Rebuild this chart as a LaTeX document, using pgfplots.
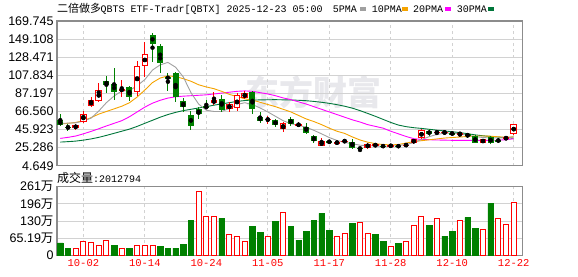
\documentclass[border=0pt]{standalone}
\usepackage{pgfplots}
\pgfplotsset{compat=1.18}
\usepackage{pgfplotstable}
\usepackage{fontspec}
\setmainfont{Liberation Sans}
\newfontfamily\cjk{Noto Sans CJK SC}
\newfontfamily\mono{Liberation Mono}
\definecolor{cred}{HTML}{FF0000}
\definecolor{cgreen}{HTML}{008000}
\definecolor{ma5}{HTML}{A0A0A0}
\definecolor{ma10}{HTML}{F5A300}
\definecolor{ma20}{HTML}{FF00FF}
\definecolor{ma30}{HTML}{00763A}
\definecolor{gridc}{HTML}{D2D2D2}
\definecolor{framec}{HTML}{8C8C8C}
\definecolor{wm}{HTML}{E8E8EC}

\pgfplotstableread{
i o c h l
2 47.2 51.0 52.5 45.3
3 54.1 64.0 66.6 53.7
4 72.3 80.0 83.0 71.6
5 78.4 91.4 98.6 77.7
8 90.2 92.1 102.8 83.0
10 88.3 118.8 124.5 84.1
11 118.8 131.7 145.4 105.4
20 76.5 79.2 88.3 73.9
22 69.3 74.8 76.9 66.3
23 70.0 85.0 87.2 67.0
24 82.0 87.4 89.8 80.7
27 57.0 57.8 61.7 52.5
29 46.0 52.9 54.1 43.4
31 51.0 51.5 54.5 48.4
34 27.2 32.5 36.5 27.0
36 30.7 31.1 33.0 29.0
37 32.5 33.1 34.7 30.1
40 24.4 29.9 30.9 24.2
41 28.2 28.4 29.3 26.3
43 27.2 27.5 28.0 26.8
45 28.0 28.4 30.1 26.3
46 30.1 35.1 35.5 29.6
47 36.0 45.1 46.1 34.7
49 42.6 43.0 44.8 39.2
50 42.5 42.8 43.6 41.0
52 40.9 41.2 42.7 37.7
55 30.9 34.7 35.2 30.5
58 35.0 37.3 37.8 33.9
59 40.8 52.2 52.5 40.0
}\upc

\pgfplotstableread{
i o c h l
0 56.4 51.0 63.6 49.5
1 49.0 48.5 51.8 44.2
6 101.3 96.7 107.0 87.2
7 97.5 89.1 115.7 79.2
9 94.8 82.6 95.5 78.8
12 153.8 143.9 156.1 122.5
13 141.2 121.4 143.5 110.8
14 106.2 103.9 110.8 90.2
15 110.0 83.4 111.1 77.6
16 78.4 71.6 81.5 66.3
17 62.4 50.3 67.0 45.7
18 68.9 63.6 71.9 58.3
19 72.7 70.1 79.2 68.9
21 80.7 68.2 85.3 66.3
25 88.3 68.9 89.8 64.0
26 60.2 55.6 65.5 53.7
28 57.0 50.6 58.0 49.1
30 57.5 52.8 59.8 49.9
32 49.1 42.5 52.9 40.8
33 38.8 32.8 39.8 30.1
35 33.3 30.9 34.0 29.5
38 32.0 24.4 35.0 23.8
39 24.6 24.5 24.8 20.5
42 27.2 26.8 28.0 26.0
44 27.3 26.6 27.8 26.0
48 44.4 40.6 46.1 38.5
51 42.3 40.2 43.6 39.2
53 41.2 38.0 42.0 36.2
54 38.2 30.2 39.2 30.0
56 37.0 30.1 38.1 29.8
57 34.0 32.8 35.8 30.9
}\dnc

\pgfplotstableread{
i m5 m10 m20 m30
0 52.9 52.2 35.8 31.6
1 53.2 53.0 37.0 32.1
2 53.6 54.0 38.5 32.7
3 55.5 56.0 41.0 33.8
4 58.9 59.5 43.8 35.2
5 67.0 63.5 46.8 37.0
6 76.6 66.5 50.0 39.2
7 84.2 69.5 53.0 41.6
8 89.9 72.5 56.0 44.0
9 90.4 76.5 60.5 46.4
10 95.9 83.0 66.0 49.5
11 102.9 91.0 71.5 53.0
12 113.8 99.5 76.0 56.5
13 119.7 104.7 79.3 60.0
14 122.5 107.1 81.8 63.0
15 117.0 106.3 83.3 65.5
16 106.0 104.0 84.0 67.5
17 88.0 101.0 84.5 69.0
18 75.0 97.0 85.0 70.5
19 68.0 94.5 85.5 72.0
20 66.5 92.5 86.5 73.7
21 66.5 89.5 87.5 75.2
22 70.0 86.0 88.5 76.6
23 74.5 83.5 89.5 78.0
24 76.5 81.0 90.0 79.0
25 74.5 79.5 89.5 79.6
26 70.5 77.0 88.0 79.7
27 66.0 74.5 86.5 79.9
28 61.0 72.0 84.5 80.0
29 56.0 69.0 82.0 79.8
30 52.5 66.0 80.0 79.6
31 50.8 62.0 77.5 79.3
32 48.5 58.0 75.0 78.8
33 45.0 55.0 72.0 78.0
34 41.0 51.5 69.0 77.0
35 36.8 47.5 66.0 75.8
36 33.5 44.0 63.0 74.3
37 31.2 41.5 60.0 72.5
38 29.8 37.5 57.0 70.3
39 28.0 34.0 54.5 67.5
40 27.6 31.5 51.5 64.3
41 27.2 29.8 49.5 61.0
42 26.7 28.8 47.5 57.5
43 27.0 28.4 44.0 54.0
44 27.8 28.8 41.0 51.0
45 28.8 30.5 38.0 49.2
46 31.0 32.2 35.5 48.0
47 34.5 33.2 34.6 47.2
48 37.8 34.2 34.3 46.2
49 40.3 35.2 34.0 45.2
50 41.8 36.2 33.8 44.3
51 41.8 36.8 33.6 43.4
52 40.8 37.4 33.5 42.4
53 39.5 38.0 33.5 41.2
54 37.8 38.5 33.5 39.8
55 36.8 38.6 33.5 38.8
56 36.3 38.3 33.6 38.0
57 36.2 37.6 33.8 37.3
58 36.6 37.1 34.3 36.6
59 37.6 37.6 35.4 36.0
}\ma

\pgfplotstableread{
i v
2 26.3
3 52.7
4 50.2
5 37.6
6 56.4
8 26.3
10 37.6
11 37.6
12 37.6
18 242.0
19 146.7
20 146.7
22 80.3
23 71.5
24 52.7
27 71.5
29 161.8
36 71.5
37 82.8
39 124.1
40 82.8
43 33.9
45 52.7
46 112.9
47 146.7
49 139.2
52 131.7
55 97.8
57 139.2
58 117.9
59 201.28
}\upv

\pgfplotstableread{
i v
0 47.6
1 27.6
7 38.9
9 27.6
13 32.6
14 27.6
15 27.6
16 42.6
17 132.9
21 140.4
25 110.4
26 87.8
28 129.2
30 110.4
31 57.7
32 91.5
33 132.9
34 159.3
35 95.3
38 121.6
41 80.3
42 53.9
44 46.4
48 114.1
50 72.7
51 91.5
53 144.2
54 102.8
56 196.9
}\dnv

\pgfplotsset{
  kstyle/.style={
    scale only axis, width=465.3pt,
    xmin=-0.43, xmax=60.12,
    xtick={3,11,19,27,35,43,51,59},
    major tick length=0pt,
    axis line style={draw=framec, line width=1.2pt},
    xmajorgrids, ymajorgrids,
    major x grid style={draw=gridc, dash pattern=on 3pt off 3pt, line width=0.8pt},
    major y grid style={draw=gridc, line width=0.9pt},
    yticklabel style={font=\fontsize{12.5}{13}\selectfont, text=black},
    clip=true,
  },
}

\begin{document}
\begin{tikzpicture}[x=1pt,y=1pt]
\useasboundingbox (0,0) rectangle (578,-276);
% watermark
\node[font=\cjk\bfseries\fontsize{34}{34}\selectfont, text=wm, anchor=center, inner sep=0] at (313,-92) {东方财富};
% title
\node[anchor=base west, inner sep=0, font=\cjk\fontsize{11}{11}\selectfont] at (57,-12.5) {二倍做多};
\node[anchor=base west, inner sep=0, font=\mono\fontsize{10}{10}\selectfont] at (100.5,-12.5) {QBTS ETF-Tradr[QBTX] 2025-12-23 05:00};
\node[anchor=base west, inner sep=0, font=\mono\fontsize{10}{10}\selectfont] at (332.7,-12.5) {5PMA};
\fill[ma5] (360,-7.3) rectangle (365.5,-10.7);
\node[anchor=base west, inner sep=0, font=\mono\fontsize{10}{10}\selectfont] at (371.7,-12.5) {10PMA};
\fill[ma10] (402,-7.3) rectangle (408,-10.7);
\node[anchor=base west, inner sep=0, font=\mono\fontsize{10}{10}\selectfont] at (413,-12.5) {20PMA};
\fill[ma20] (445,-7.3) rectangle (450.5,-10.7);
\node[anchor=base west, inner sep=0, font=\mono\fontsize{10}{10}\selectfont] at (456.7,-12.5) {30PMA};
\fill[ma30] (488,-7.3) rectangle (493.5,-10.7);
% volume header
\node[anchor=base west, inner sep=0, font=\cjk\fontsize{12}{12}\selectfont] at (57,-182.5) {成交量};
\node[anchor=base west, inner sep=0, font=\mono\fontsize{10}{10}\selectfont] at (93,-182.5) {:2012794};

\begin{axis}[kstyle,
  at={(57pt,-21pt)}, anchor=north west,
  height=144.7pt,
  ymin=4.649, ymax=169.745,
  ytick={4.649,25.286,45.923,66.560,87.197,107.834,128.471,149.108,169.745},
  yticklabels={4.649,25.286,45.923,66.560,87.197,107.834,128.471,149.108,169.745},
  xticklabels={},
]
% moving averages
\addplot[ma30, line width=0.9pt, mark=none, forget plot] table[x=i,y=m30] {\ma};
\addplot[ma20, line width=0.9pt, mark=none, forget plot] table[x=i,y=m20] {\ma};
\addplot[ma10, line width=0.9pt, mark=none, forget plot] table[x=i,y=m10] {\ma};
\addplot[ma5, line width=0.9pt, mark=none, forget plot] table[x=i,y=m5] {\ma};
% wicks
\addplot[only marks, mark=none, forget plot,
  error bars/.cd, y dir=both, y explicit, error mark=none,
  error bar style={draw=cgreen, line width=1pt}]
  table[x=i, y expr={(\thisrow{h}+\thisrow{l})/2}, y error expr={(\thisrow{h}-\thisrow{l})/2}] {\dnc};
\addplot[only marks, mark=none, forget plot,
  error bars/.cd, y dir=both, y explicit, error mark=none,
  error bar style={draw=cred, line width=1pt}]
  table[x=i, y expr={(\thisrow{h}+\thisrow{l})/2}, y error expr={(\thisrow{h}-\thisrow{l})/2}] {\upc};
% green bodies
\addplot[only marks, mark=none, forget plot,
  error bars/.cd, y dir=both, y explicit, error mark=none,
  error bar style={draw=cgreen, line width=6pt}]
  table[x=i, y expr={(\thisrow{o}+\thisrow{c})/2}, y error expr={max(abs(\thisrow{o}-\thisrow{c})/2,0.6)}] {\dnc};
% red hollow bodies
\addplot[only marks, mark=none, forget plot,
  error bars/.cd, y dir=both, y explicit, error mark=none,
  error bar style={draw=cred, line width=6.5pt}]
  table[x=i, y expr={(\thisrow{o}+\thisrow{c})/2}, y error expr={max(abs(\thisrow{o}-\thisrow{c})/2,0.6)}] {\upc};
\addplot[only marks, mark=none, forget plot,
  error bars/.cd, y dir=both, y explicit, error mark=none,
  error bar style={draw=white, line width=4.5pt}]
  table[x=i, y expr={(\thisrow{o}+\thisrow{c})/2}, y error expr={max(abs(\thisrow{o}-\thisrow{c})/2-1.14,0)}] {\upc};
\end{axis}

\begin{axis}[kstyle,
  at={(57pt,-186.7pt)}, anchor=north west,
  height=68.6pt,
  ymin=0, ymax=260.76,
  ytick={0,65.19,130.38,195.57,260.76},
  yticklabels={0,65.19{\cjk 万},130{\cjk 万},196{\cjk 万},261{\cjk 万}},
  xticklabels={10-02,10-14,10-24,11-05,11-17,11-28,12-10,12-22},
  xticklabel style={font=\mono\fontsize{10.5}{11}\selectfont, text=cred, yshift=-1pt},
]
\addplot[ybar, bar width=5.5pt, bar shift=0pt, fill=cgreen, draw=cgreen, line width=0.5pt, forget plot] table[x=i,y=v] {\dnv};
\addplot[ybar, bar width=5pt, bar shift=0pt, fill=white, draw=cred, line width=1pt, forget plot] table[x=i,y=v] {\upv};
\end{axis}
\end{tikzpicture}
\end{document}
